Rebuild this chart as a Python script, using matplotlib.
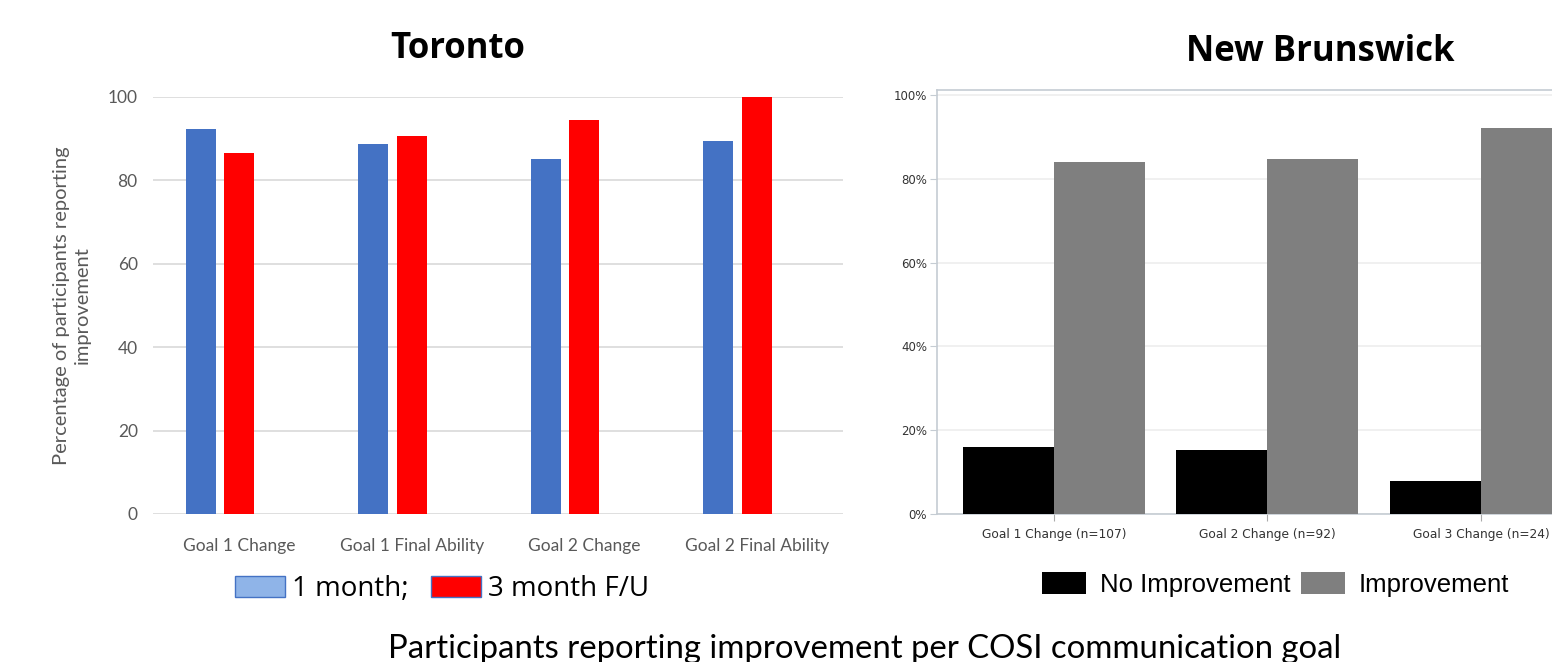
import matplotlib.pyplot as plt
import numpy as np
from matplotlib.patches import Patch

# Toronto data
tor_goals = ["Goal 1 Change", "Goal 1 Final Ability", "Goal 2 Change", "Goal 2 Final Ability"]
tor_1month = [92.3, 88.7, 85.1, 89.4]
tor_3month = [86.6, 90.6, 94.5, 100.0]

# New Brunswick data
nb_goals = ["Goal 1 Change (n=107)", "Goal 2 Change (n=92)", "Goal 3 Change (n=24)"]
nb_no_impr = [15.9, 15.2, 7.8]
nb_impr = [84.1, 84.8, 92.2]

fig = plt.figure(figsize=(15.52, 6.62), dpi=100)

# ---- left: Toronto ----
ax1 = fig.add_axes([0.0986, 0.2236, 0.4446, 0.630])
x = np.arange(len(tor_goals))
slot = 0.223
w = 0.174
ax1.bar(x - slot, tor_1month, width=w, color="#4472c4", zorder=3)
ax1.bar(x, tor_3month, width=w, color="#ff0000", zorder=3)
ax1.set_xlim(-0.5, 3.5)
ax1.set_ylim(0, 100)
ax1.set_yticks([0, 20, 40, 60, 80, 100])
ax1.yaxis.grid(True, color="#d9d9d9", lw=1.2, zorder=0)
for s in ax1.spines.values():
    s.set_visible(False)
ax1.tick_params(length=0, colors="#595959", labelsize=12.5)
ax1.tick_params(axis="y", pad=11)
ax1.tick_params(axis="x", pad=17)
ax1.set_xticks(x)
ax1.set_xticklabels(tor_goals, family="Lato")
for lb in ax1.get_yticklabels():
    lb.set_family("Lato")
ax1.set_ylabel("Percentage of participants reporting\nimprovement", color="#595959",
               fontsize=14.5, family="Lato", labelpad=12, linespacing=1.3)
for b in ax1.patches:
    b.set_clip_on(False)
fig.text(0.295, 0.926, "Toronto", ha="center", va="center", fontsize=25,
         fontweight="bold", family="Open Sans")

h1 = [Patch(facecolor="#8fb4e8", edgecolor="#4472c4"), Patch(facecolor="#ff0000", edgecolor="#4472c4")]
fig.legend(h1, ["1 month;", "3 month F/U"], loc="center", bbox_to_anchor=(0.285, 0.110),
           ncol=2, frameon=False, prop={"family": "Open Sans", "size": 20},
           handlelength=1.8, handleheight=0.8, handletextpad=0.25, columnspacing=0.8)

# ---- right: New Brunswick ----
ax2 = fig.add_axes([0.6037, 0.2236, 0.3963, 0.6405])
x2 = np.arange(len(nb_goals))
bw = 0.426
ax2.bar(x2 - bw / 2, nb_no_impr, width=bw, color="black", zorder=3)
ax2.bar(x2 + bw / 2, nb_impr, width=bw, color="#7f7f7f", zorder=3)
ax2.set_xlim(-0.548, 2.333)
ax2.set_ylim(0, 101.2)
ax2.set_yticks([0, 20, 40, 60, 80, 100])
ax2.set_yticklabels(["0%", "20%", "40%", "60%", "80%", "100%"], family="DejaVu Sans", fontsize=8.5)
ax2.yaxis.grid(True, color="#eeeeee", lw=1.2, zorder=0)
ax2.set_xticks(x2)
ax2.set_xticklabels(nb_goals, family="DejaVu Sans", fontsize=8.8)
ax2.spines["right"].set_visible(False)
for k in ["left", "bottom", "top"]:
    ax2.spines[k].set_color("#c5ccd3")
    ax2.spines[k].set_linewidth(1.2)
ax2.tick_params(axis="y", length=5, color="#c5ccd3", labelcolor="#333333", pad=2)
ax2.tick_params(axis="x", length=5, color="#aaaaaa", labelcolor="#333333", pad=5)
fig.text(0.8505, 0.922, "New Brunswick", ha="center", va="center", fontsize=25,
         fontweight="bold", family="Open Sans")

h2 = [Patch(facecolor="black"), Patch(facecolor="#7f7f7f")]
fig.legend(h2, ["No Improvement", "Improvement"], loc="center", bbox_to_anchor=(0.822, 0.117),
           ncol=2, frameon=False,
           prop={"family": "Liberation Sans", "size": 18.5},
           handlelength=1.7, handleheight=0.9, handletextpad=0.55, columnspacing=0.4)

fig.text(0.557, 0.02, "Participants reporting improvement per COSI communication goal",
         ha="center", va="center", fontsize=23.7, family="Lato")

fig.savefig("out.png", dpi=100)
